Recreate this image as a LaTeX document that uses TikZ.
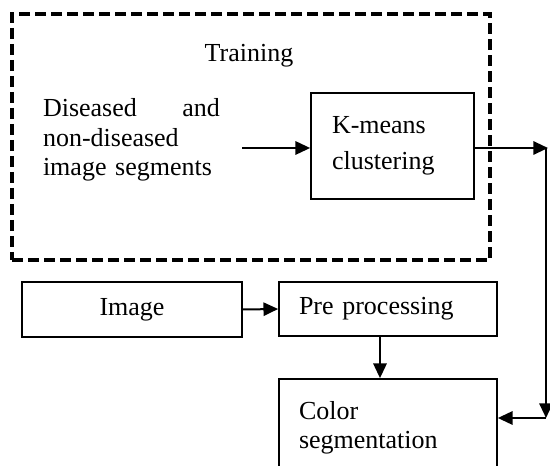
\documentclass[tikz,border=0pt]{standalone}
\usepackage{fontspec}
\setmainfont{Liberation Serif}
\usetikzlibrary{arrows.meta}

\begin{document}
\begin{tikzpicture}[
    x=0.75pt, y=-0.75pt,
    font=\fontsize{19.5}{22}\selectfont,
    blk/.style={rectangle, draw, line width=1.3pt, inner sep=0pt},
    txt/.style={rectangle, inner sep=0pt, align=left},
    grp/.style={rectangle, draw, line width=3pt, dash pattern=on 8pt off 4pt},
    arr/.style={line width=1.5pt, -{Triangle[length=11pt,width=10pt]}},
]
\clip (0,0) rectangle (550,466);

% Training group
\node[grp, minimum width=358.5pt, minimum height=184.5pt] (train) at (251,137) {};
\node[anchor=base, inner sep=0pt] (trainlbl) at (249,62) {Training};

% Inputs of the training
\node[txt, text width=132.75pt, inner xsep=16.5pt] (segs) at (131.5,140)
    {\makebox[132.75pt][s]{Diseased\hfill and}\\non-diseased\\image segments};
\node[blk, minimum width=122.25pt, minimum height=79.5pt, text width=90.75pt,
      inner xsep=15.75pt, align=left] (kmeans) at (392.5,146)
    {K-means\\[5pt]clustering\\[14pt]};

% Main flow
\node[blk, minimum width=165pt, minimum height=41.25pt] (image) at (132,309.5) {Image};
\node[blk, minimum width=163.5pt, minimum height=40.5pt, text width=133.5pt,
      inner xsep=15pt, align=left] (pre) at (388,309) {Pre processing};
\node[blk, minimum width=163.5pt, minimum height=73.5pt, text width=133.5pt,
      inner xsep=15pt, align=left] (colorseg) at (388,428) {Color\\segmentation};

% Return path
\coordinate (c1) at (548,148);
\coordinate (c2) at (546,418);

% Edges
\draw[arr] (segs.east |- 0,148) -- (kmeans.west |- 0,148);
\draw[arr] (kmeans.east |- c1) -- (c1);
\draw[arr] ([xshift=-1.5pt]c1) -- (c2);
\draw[arr] (c2) -- (colorseg.east |- c2);
\draw[arr] (image.east) -- (pre.west);
\draw[arr] ([xshift=-6pt]pre.south) -- ([xshift=-6pt]colorseg.north);

\end{tikzpicture}
\end{document}
